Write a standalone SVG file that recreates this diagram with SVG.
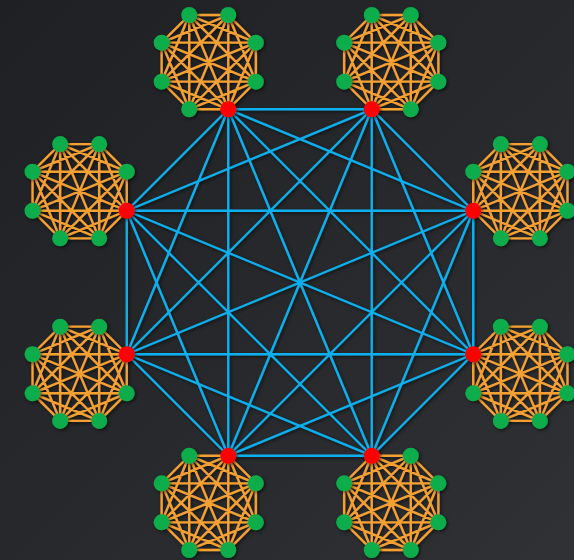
<svg xmlns="http://www.w3.org/2000/svg" xmlns:xlink="http://www.w3.org/1999/xlink" width="574" height="560" viewBox="0 0 574 560">
<style>
.bg{fill:url(#bgg)}
.or{stroke:#f5a033;stroke-width:2.4;fill:none;stroke-linecap:round}
.bl{stroke:#0fb0ee;stroke-width:2.4;fill:none;stroke-linecap:round}
.gr{fill:#0cad4b}
.rd{fill:#ff0000}
.sh{filter:url(#ds)}
</style>
<defs>
<linearGradient id="bgg" x1="0" y1="0" x2="1" y2="1">
<stop offset="0" stop-color="#1e2023"/>
<stop offset="1" stop-color="#2f3134"/>
</linearGradient>
<filter id="ds" x="-10%" y="-10%" width="120%" height="120%">
<feDropShadow dx="1.5" dy="1.5" stdDeviation="1.5" flood-color="#000" flood-opacity="0.55"/>
</filter>
<path id="k8" class="or" d="M47.12 19.52L19.52 47.12M47.12 19.52L-19.52 47.12M47.12 19.52L-47.12 19.52M47.12 19.52L-47.12 -19.52M47.12 19.52L-19.52 -47.12M47.12 19.52L19.52 -47.12M47.12 19.52L47.12 -19.52M19.52 47.12L-19.52 47.12M19.52 47.12L-47.12 19.52M19.52 47.12L-47.12 -19.52M19.52 47.12L-19.52 -47.12M19.52 47.12L19.52 -47.12M19.52 47.12L47.12 -19.52M-19.52 47.12L-47.12 19.52M-19.52 47.12L-47.12 -19.52M-19.52 47.12L-19.52 -47.12M-19.52 47.12L19.52 -47.12M-19.52 47.12L47.12 -19.52M-47.12 19.52L-47.12 -19.52M-47.12 19.52L-19.52 -47.12M-47.12 19.52L19.52 -47.12M-47.12 19.52L47.12 -19.52M-47.12 -19.52L-19.52 -47.12M-47.12 -19.52L19.52 -47.12M-47.12 -19.52L47.12 -19.52M-19.52 -47.12L19.52 -47.12M-19.52 -47.12L47.12 -19.52M19.52 -47.12L47.12 -19.52"/>
</defs>
<rect class="bg" x="0" y="0" width="574" height="560"/>
<g id="connectors" class="sh">
<g id="cluster-edges">
<use href="#k8" transform="translate(208.73 62.15)"/>
<use href="#k8" transform="translate(391.27 62.15)"/>
<use href="#k8" transform="translate(520.35 191.23)"/>
<use href="#k8" transform="translate(520.35 373.77)"/>
<use href="#k8" transform="translate(391.27 502.85)"/>
<use href="#k8" transform="translate(208.73 502.85)"/>
<use href="#k8" transform="translate(79.65 373.77)"/>
<use href="#k8" transform="translate(79.65 191.23)"/>
</g>
<g id="core-edges" class="bl">
<line x1="228.25" y1="109.27" x2="371.75" y2="109.27"/>
<line x1="228.25" y1="109.27" x2="473.23" y2="210.75"/>
<line x1="228.25" y1="109.27" x2="473.23" y2="354.25"/>
<line x1="228.25" y1="109.27" x2="371.75" y2="455.73"/>
<line x1="228.25" y1="109.27" x2="228.25" y2="455.73"/>
<line x1="228.25" y1="109.27" x2="126.77" y2="354.25"/>
<line x1="228.25" y1="109.27" x2="126.77" y2="210.75"/>
<line x1="371.75" y1="109.27" x2="473.23" y2="210.75"/>
<line x1="371.75" y1="109.27" x2="473.23" y2="354.25"/>
<line x1="371.75" y1="109.27" x2="371.75" y2="455.73"/>
<line x1="371.75" y1="109.27" x2="228.25" y2="455.73"/>
<line x1="371.75" y1="109.27" x2="126.77" y2="354.25"/>
<line x1="371.75" y1="109.27" x2="126.77" y2="210.75"/>
<line x1="473.23" y1="210.75" x2="473.23" y2="354.25"/>
<line x1="473.23" y1="210.75" x2="371.75" y2="455.73"/>
<line x1="473.23" y1="210.75" x2="228.25" y2="455.73"/>
<line x1="473.23" y1="210.75" x2="126.77" y2="354.25"/>
<line x1="473.23" y1="210.75" x2="126.77" y2="210.75"/>
<line x1="473.23" y1="354.25" x2="371.75" y2="455.73"/>
<line x1="473.23" y1="354.25" x2="228.25" y2="455.73"/>
<line x1="473.23" y1="354.25" x2="126.77" y2="354.25"/>
<line x1="473.23" y1="354.25" x2="126.77" y2="210.75"/>
<line x1="371.75" y1="455.73" x2="228.25" y2="455.73"/>
<line x1="371.75" y1="455.73" x2="126.77" y2="354.25"/>
<line x1="371.75" y1="455.73" x2="126.77" y2="210.75"/>
<line x1="228.25" y1="455.73" x2="126.77" y2="354.25"/>
<line x1="228.25" y1="455.73" x2="126.77" y2="210.75"/>
<line x1="126.77" y1="354.25" x2="126.77" y2="210.75"/>
</g>
</g>
<g id="nodes" class="sh">
<g id="A0"><circle class="gr" cx="255.85" cy="81.67" r="8"/></g>
<g id="A2"><circle class="gr" cx="189.21" cy="109.27" r="8"/></g>
<g id="A3"><circle class="gr" cx="161.61" cy="81.67" r="8"/></g>
<g id="A4"><circle class="gr" cx="161.61" cy="42.63" r="8"/></g>
<g id="A5"><circle class="gr" cx="189.21" cy="15.03" r="8"/></g>
<g id="A6"><circle class="gr" cx="228.25" cy="15.03" r="8"/></g>
<g id="A7"><circle class="gr" cx="255.85" cy="42.63" r="8"/></g>
<g id="B0"><circle class="gr" cx="438.39" cy="81.67" r="8"/></g>
<g id="B1"><circle class="gr" cx="410.79" cy="109.27" r="8"/></g>
<g id="B3"><circle class="gr" cx="344.15" cy="81.67" r="8"/></g>
<g id="B4"><circle class="gr" cx="344.15" cy="42.63" r="8"/></g>
<g id="B5"><circle class="gr" cx="371.75" cy="15.03" r="8"/></g>
<g id="B6"><circle class="gr" cx="410.79" cy="15.03" r="8"/></g>
<g id="B7"><circle class="gr" cx="438.39" cy="42.63" r="8"/></g>
<g id="C0"><circle class="gr" cx="567.47" cy="210.75" r="8"/></g>
<g id="C1"><circle class="gr" cx="539.87" cy="238.35" r="8"/></g>
<g id="C2"><circle class="gr" cx="500.83" cy="238.35" r="8"/></g>
<g id="C4"><circle class="gr" cx="473.23" cy="171.71" r="8"/></g>
<g id="C5"><circle class="gr" cx="500.83" cy="144.11" r="8"/></g>
<g id="C6"><circle class="gr" cx="539.87" cy="144.11" r="8"/></g>
<g id="C7"><circle class="gr" cx="567.47" cy="171.71" r="8"/></g>
<g id="D0"><circle class="gr" cx="567.47" cy="393.29" r="8"/></g>
<g id="D1"><circle class="gr" cx="539.87" cy="420.89" r="8"/></g>
<g id="D2"><circle class="gr" cx="500.83" cy="420.89" r="8"/></g>
<g id="D3"><circle class="gr" cx="473.23" cy="393.29" r="8"/></g>
<g id="D5"><circle class="gr" cx="500.83" cy="326.65" r="8"/></g>
<g id="D6"><circle class="gr" cx="539.87" cy="326.65" r="8"/></g>
<g id="D7"><circle class="gr" cx="567.47" cy="354.25" r="8"/></g>
<g id="E0"><circle class="gr" cx="438.39" cy="522.37" r="8"/></g>
<g id="E1"><circle class="gr" cx="410.79" cy="549.97" r="8"/></g>
<g id="E2"><circle class="gr" cx="371.75" cy="549.97" r="8"/></g>
<g id="E3"><circle class="gr" cx="344.15" cy="522.37" r="8"/></g>
<g id="E4"><circle class="gr" cx="344.15" cy="483.33" r="8"/></g>
<g id="E6"><circle class="gr" cx="410.79" cy="455.73" r="8"/></g>
<g id="E7"><circle class="gr" cx="438.39" cy="483.33" r="8"/></g>
<g id="F0"><circle class="gr" cx="255.85" cy="522.37" r="8"/></g>
<g id="F1"><circle class="gr" cx="228.25" cy="549.97" r="8"/></g>
<g id="F2"><circle class="gr" cx="189.21" cy="549.97" r="8"/></g>
<g id="F3"><circle class="gr" cx="161.61" cy="522.37" r="8"/></g>
<g id="F4"><circle class="gr" cx="161.61" cy="483.33" r="8"/></g>
<g id="F5"><circle class="gr" cx="189.21" cy="455.73" r="8"/></g>
<g id="F7"><circle class="gr" cx="255.85" cy="483.33" r="8"/></g>
<g id="G0"><circle class="gr" cx="126.77" cy="393.29" r="8"/></g>
<g id="G1"><circle class="gr" cx="99.17" cy="420.89" r="8"/></g>
<g id="G2"><circle class="gr" cx="60.13" cy="420.89" r="8"/></g>
<g id="G3"><circle class="gr" cx="32.53" cy="393.29" r="8"/></g>
<g id="G4"><circle class="gr" cx="32.53" cy="354.25" r="8"/></g>
<g id="G5"><circle class="gr" cx="60.13" cy="326.65" r="8"/></g>
<g id="G6"><circle class="gr" cx="99.17" cy="326.65" r="8"/></g>
<g id="H1"><circle class="gr" cx="99.17" cy="238.35" r="8"/></g>
<g id="H2"><circle class="gr" cx="60.13" cy="238.35" r="8"/></g>
<g id="H3"><circle class="gr" cx="32.53" cy="210.75" r="8"/></g>
<g id="H4"><circle class="gr" cx="32.53" cy="171.71" r="8"/></g>
<g id="H5"><circle class="gr" cx="60.13" cy="144.11" r="8"/></g>
<g id="H6"><circle class="gr" cx="99.17" cy="144.11" r="8"/></g>
<g id="H7"><circle class="gr" cx="126.77" cy="171.71" r="8"/></g>
<g id="RA"><circle class="rd" cx="228.25" cy="109.27" r="8"/></g>
<g id="RB"><circle class="rd" cx="371.75" cy="109.27" r="8"/></g>
<g id="RC"><circle class="rd" cx="473.23" cy="210.75" r="8"/></g>
<g id="RD"><circle class="rd" cx="473.23" cy="354.25" r="8"/></g>
<g id="RE"><circle class="rd" cx="371.75" cy="455.73" r="8"/></g>
<g id="RF"><circle class="rd" cx="228.25" cy="455.73" r="8"/></g>
<g id="RG"><circle class="rd" cx="126.77" cy="354.25" r="8"/></g>
<g id="RH"><circle class="rd" cx="126.77" cy="210.75" r="8"/></g>
</g>
</svg>
